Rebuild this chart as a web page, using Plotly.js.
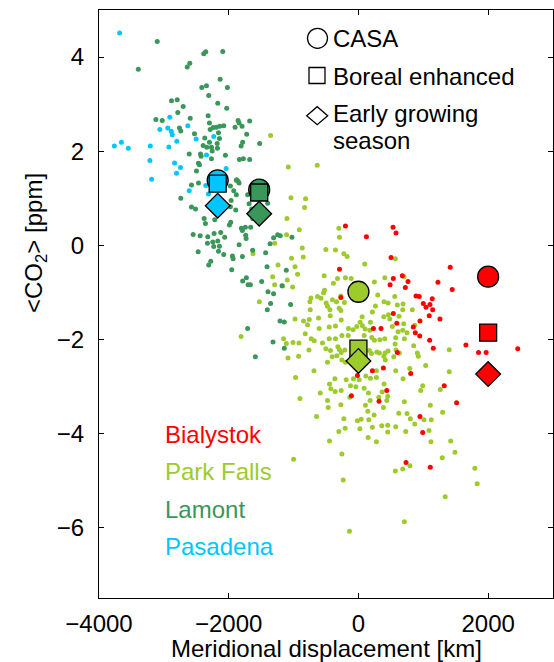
<!DOCTYPE html>
<html>
<head>
<meta charset="utf-8">
<script src="https://cdn.plot.ly/plotly-3.0.1.min.js"></script>
<style>html,body{margin:0;padding:0;background:#fff;}#chart{width:554px;height:662px;}</style>
</head>
<body>
<div id="chart"></div>
<script>
// ---------------- data ----------------
const siteNames = ['Bialystok', 'Park Falls', 'Lamont', 'Pasadena'];
const siteColors = ['#ff0000', '#9dcb2c', '#3a9659', '#00c6ff'];

// model means per site (x = meridional displacement of the site)
const siteX = [2000, 0, -1530, -2170];
const casaMean = [-0.67, -0.99, 1.18, 1.38];
const borealMean = [-1.86, -2.20, 1.12, 1.31];
const earlyMean = [-2.74, -2.46, 0.67, 0.84];

const bialystokX = [-200,123,534,580,503,-292,538,488,677,765,723,1415,1226,1446,888,938,1138,1000,1042,1103,1145,538,1092,1257,949,591,846,877,945,349,231,-271,1098,1154,1657,1852,1969,2457,600,385,215,-15,806,1323,1514,437,-108,318,949,991,734,1108];
const bialystokY = [0.41,0.18,0.38,0.26,-0.26,-0.51,-0.71,-0.84,-0.65,-0.77,-0.90,-0.47,-0.79,-0.94,-1.08,-1.09,-1.14,-1.24,-1.32,-1.26,-1.37,-1.45,-1.50,-1.57,-1.61,-1.66,-1.74,-1.86,-1.93,-1.77,-1.77,-1.11,-2.02,-2.19,-2.12,-2.28,-2.28,-2.20,-2.28,-2.61,-2.67,-2.77,-2.73,-2.99,-3.35,-3.09,-3.20,-3.32,-3.64,-3.98,-4.62,-4.72];

const parkFallsX = [-1082,-635,-1040,-815,-831,-1102,-912,-302,-292,-1108,-1292,-866,-851,-502,-354,-225,-174,98,569,-1031,-1240,-978,-1323,-938,-528,-385,-323,-200,-112,-271,-215,246,406,703,298,395,457,600,688,831,868,698,611,565,580,200,283,411,457,415,908,923,1037,1400,1400,1262,1108,1123,1118,1298,1422,1488,1292,1795,1831,1338,683,795,569,-235,-255,-446,-1000,-902,-969,-686,-646,-1086,-917,-763,-682,-1154,-1112,-820,-1292,-1169,-1015,-732,-578,-538,-523,-497,-400,-338,-477,-440,-297,-271,-435,-615,-743,-758,-266,-354,-451,-154,-82,-25,26,62,103,175,185,57,215,262,391,462,483,626,523,683,708,575,406,329,246,206,88,-158,-255,-354,-451,-554,-728,-502,-431,-317,-292,-266,-209,-332,-405,-477,-255,-200,169,323,391,545,631,852,791,688,991,960,575,395,365,314,437,385,277,277,185,114,11,-77,-123,-40,88,154,180,108,145,242,160,42,-15,-225,-205,-302,-189,-363,-446,-425,-358,-266,-132,-477,-589,-466,-271,-923,-1009,-605,-785,-846,-748,-631,-978,-1528,-1097,683,560,749,1088,868,729,575,622,749,800,1011,452,452,360,149,277,-1809,-138,708,708,215,452,22,-1354,-1625];
const parkFallsY = [1.66,1.70,1.01,0.99,0.80,0.57,0.33,0.36,0.17,0.22,0.04,-0.06,-0.25,-0.09,-0.10,-0.18,-0.24,-0.40,-0.29,-0.28,-0.42,-0.46,-0.67,-0.62,-0.65,-0.81,-0.71,-0.69,-0.71,-1.08,-1.22,-0.78,-0.69,-0.67,-1.06,-1.20,-1.23,-1.27,-1.25,-1.37,-1.70,-1.67,-1.84,-2.10,-2.23,-2.30,-2.27,-2.29,-2.25,-2.44,-2.29,-2.36,-2.56,-2.22,-2.69,-3.07,-3.40,-3.71,-4.18,-3.55,-4.16,-4.40,-4.52,-4.74,-5.07,-5.35,-4.76,-4.69,-4.80,-4.99,-4.44,-4.16,-4.55,-3.26,-2.81,-2.67,-3.64,-2.40,-2.08,-2.23,-2.03,-1.99,-2.09,-1.88,-0.84,-0.87,-0.89,-1.12,-1.13,-1.01,-0.96,-1.23,-1.16,-1.20,-1.30,-1.37,-1.34,-1.39,-1.50,-1.55,-1.37,-1.58,-1.59,-1.72,-1.74,-1.77,-1.80,-1.73,-1.64,-1.71,-1.78,-1.81,-1.64,-1.52,-1.42,-1.29,-1.52,-1.48,-1.57,-1.51,-1.73,-1.81,-1.99,-1.97,-1.99,-2.01,-2.02,-1.96,-1.92,-1.92,-1.92,-1.99,-1.99,-2.08,-1.99,-2.20,-2.24,-2.16,-2.22,-2.28,-2.23,-2.35,-2.37,-2.49,-2.44,-2.49,-2.24,-2.29,-2.36,-2.37,-2.29,-2.14,-2.62,-2.84,-2.99,-3.09,-2.67,-2.95,-3.12,-3.23,-3.30,-3.45,-2.67,-2.81,-2.83,-2.78,-2.86,-2.84,-2.99,-3.01,-3.04,-3.14,-3.30,-3.40,-3.53,-3.61,-3.71,-3.70,-3.73,-3.69,-3.89,-3.96,-2.86,-2.84,-2.95,-3.05,-3.11,-3.09,-3.23,-3.30,-3.14,-3.45,-3.39,-2.36,-2.07,-1.77,-1.69,-1.61,-1.20,-1.09,-1.57,-1.20,-0.74,-1.37,-1.09,-1.86,-3.94,-3.80,-3.96,-3.86,-3.57,-3.58,-3.69,-3.71,-3.83,-3.97,-3.84,-4.09,-4.18,-1.94,-6.08,-5.88,-3.33,-3.87,-3.21,-3.90,2.33,-0.18];

const lamontX = [-3102,-3394,-2385,-2354,-2092,-2640,-2600,-2132,-2415,-2343,-2020,-2308,-2882,-2794,-2169,-2702,-2031,-2785,-2317,-2594,-3123,-3025,-2297,-2759,-2739,-2528,-2369,-2286,-2240,-2189,-2138,-2077,-1855,-1840,-1677,-1902,-1794,-2158,-2143,-2297,-2394,-2338,-2266,-2255,-2178,-2174,-1723,-1785,-1809,-2609,-2435,-2425,-2466,-2451,-2497,-2266,-2051,-1835,-1774,-1677,-1523,-2466,-2574,-2739,-1974,-1882,-1855,-1923,-1882,-1708,-2574,-2512,-2379,-2359,-2215,-2225,-2548,-2440,-2323,-2123,-2062,-2246,-2169,-2231,-2143,-2328,-2471,-2158,-2077,-2277,-2308,-1943,-1932,-1954,-1840,-1789,-1805,-1789,-1743,-1738,-1732,-1989,-1969,-1892,-1974,-1963,-1686,-1400,-1646,-1631,-1662,-1631,-1431,-1363,-1409,-1785,-1728,-1702,-1666,-1492,-1178,-1112,-1025,-1246,-1877,-1840,-1308,-1205,-1394,-1308,-1354,-1405,-1046,-1209,-1143,-1317,-1143,-1589,-1708];
const lamontY = [4.33,3.74,4.07,4.11,4.12,3.79,3.87,3.53,3.35,3.39,3.35,3.18,3.07,3.09,3.02,2.95,2.91,2.82,2.75,2.70,2.67,2.65,2.60,2.49,2.43,2.37,2.28,2.46,2.50,2.51,2.53,2.54,2.65,2.60,2.64,2.51,2.53,2.39,2.27,2.19,2.12,2.08,2.08,2.00,2.16,2.06,2.36,2.19,2.11,1.94,1.94,1.89,1.74,1.71,1.58,1.84,1.91,1.82,1.84,1.82,2.16,1.32,1.28,1.00,1.26,1.38,1.36,1.16,1.07,1.07,0.81,0.77,0.57,0.46,0.54,0.25,0.23,0.20,0.18,0.27,0.17,0.07,0.09,-0.03,-0.02,0.04,-0.14,-0.13,-0.20,-0.34,-0.42,-0.23,-0.29,-0.52,0.01,-0.24,0.36,0.31,0.38,0.21,0.14,0.43,0.49,0.75,0.82,0.95,0.88,0.89,0.77,0.57,0.38,-0.11,-0.16,0.03,-0.46,-0.76,-0.69,-0.84,-0.84,-0.77,-0.86,-0.53,0.17,0.22,1.39,1.32,0.16,0.20,-0.99,-1.03,-1.24,-1.37,-1.26,-1.61,-1.63,-2.06,-2.19,-2.37,-1.77];

const pasadenaX = [-3682,-2908,-3062,-2939,-2886,-2871,-2800,-2631,-2502,-2231,-3763,-3655,-3548,-3209,-2923,-3215,-2835,-2743,-2805,-3189,-2343,-2040,-2609,-2354,-2312];
const pasadenaY = [4.51,2.72,2.46,2.49,2.42,2.35,2.21,2.54,2.26,2.31,2.11,2.19,2.06,2.11,2.09,1.80,1.75,1.65,1.53,1.40,1.92,1.63,1.16,1.27,1.09];

const modelNames = ['CASA', 'Boreal enhanced', 'Early growing', 'season'];
const xTickVals = [-4000, -2000, 0, 2000];
const yTickVals = [-6, -4, -2, 0, 2, 4];
const xTitle = 'Meridional displacement [km]';
const yTitle = '&lt;CO<sub>2</sub>&gt; [ppm]';

// ---------------- figure ----------------
const FONT = 'Liberation Sans, Arial, Helvetica, sans-serif';
const FS = 24;

function dots(x, y, color) {
  return {type: 'scatter', mode: 'markers', x: x, y: y, hoverinfo: 'skip',
          marker: {size: 5, color: color, line: {width: 0}}};
}
const traces = [
  dots(parkFallsX, parkFallsY, siteColors[1]),
  dots(lamontX, lamontY, siteColors[2]),
  dots(pasadenaX, pasadenaY, siteColors[3]),
  dots(bialystokX, bialystokY, siteColors[0])
];
function big(y, symbol, size) {
  return {type: 'scatter', mode: 'markers', x: siteX, y: y, hoverinfo: 'skip',
          marker: {symbol: symbol, size: size, color: siteColors, line: {color: '#000', width: 1.3}}};
}
traces.push(big(casaMean, 'circle', 21));
traces.push(big(borealMean, 'square', 17));
traces.push(big(earlyMean, 'diamond', 19));

// pixel helpers for the in-plot key (plot area: x 99..553, y 10..598)
const PL = 99, PW = 454, PT = 10, PH = 588;
const px = v => (v - PL) / PW;
const py = v => (PT + PH - v) / PH;

const annotations = [];
// model key text
[[modelNames[0], 38], [modelNames[1], 76], [modelNames[2], 114], [modelNames[3], 140]].forEach(function (d) {
  annotations.push({xref: 'paper', yref: 'paper', x: px(332), y: py(d[1]), xanchor: 'left', yanchor: 'middle',
    text: d[0], showarrow: false, borderpad: 0, font: {family: FONT, size: FS, color: '#000'}});
});
// site names
[[0, 434], [1, 471], [2, 509], [3, 546]].forEach(function (d) {
  annotations.push({xref: 'paper', yref: 'paper', x: px(163), y: py(d[1]), xanchor: 'left', yanchor: 'middle',
    text: siteNames[d[0]], showarrow: false, font: {family: FONT, size: FS, color: siteColors[d[0]]}});
});
// axis titles
annotations.push({xref: 'paper', yref: 'paper', x: px(35), y: py(243), xanchor: 'center', yanchor: 'middle',
  text: yTitle, textangle: -90, showarrow: false, font: {family: FONT, size: FS, color: '#000'}});
annotations.push({xref: 'paper', yref: 'paper', x: px(326), y: py(648), xanchor: 'center', yanchor: 'middle',
  text: xTitle, showarrow: false, borderpad: 0, font: {family: FONT, size: FS, color: '#000'}});

const keyLine = {color: '#000', width: 1.3};
const shapes = [
  {type: 'circle', xref: 'paper', yref: 'paper', xsizemode: 'pixel', ysizemode: 'pixel',
   xanchor: px(317.5), yanchor: py(38.3), x0: -10, x1: 10, y0: -10, y1: 10, line: keyLine},
  {type: 'rect', xref: 'paper', yref: 'paper', xsizemode: 'pixel', ysizemode: 'pixel',
   xanchor: px(317), yanchor: py(75.5), x0: -8, x1: 8, y0: -8, y1: 8, line: keyLine},
  {type: 'path', xref: 'paper', yref: 'paper', xsizemode: 'pixel', ysizemode: 'pixel',
   xanchor: px(317.2), yanchor: py(115.7), path: 'M -10.5 0 L 0 9 L 10.5 0 L 0 -9 Z', line: keyLine}
];

const axisCommon = {
  ticks: 'inside', ticklen: 5, tickwidth: 1, tickcolor: '#000',
  showline: true, linecolor: '#000', linewidth: 1, mirror: 'ticks',
  showgrid: false, zeroline: false, fixedrange: true,
  tickfont: {family: FONT, size: FS, color: '#000'}
};
const layout = {
  width: 554, height: 662,
  margin: {l: PL, r: 554 - PL - PW, t: PT, b: 662 - PT - PH},
  paper_bgcolor: '#fff', plot_bgcolor: '#fff',
  showlegend: false,
  font: {family: FONT, size: FS, color: '#000'},
  xaxis: Object.assign({}, axisCommon, {
    range: [-4000, 3000], tickmode: 'array', tickvals: xTickVals,
    ticklabelstandoff: 4
  }),
  yaxis: Object.assign({}, axisCommon, {
    range: [-7.5, 5], tickmode: 'array', tickvals: yTickVals,
    ticklabelstandoff: 9
  }),
  annotations: annotations,
  shapes: shapes
};

Plotly.newPlot('chart', traces, layout, {displayModeBar: false, staticPlot: true});
</script>
</body>
</html>
